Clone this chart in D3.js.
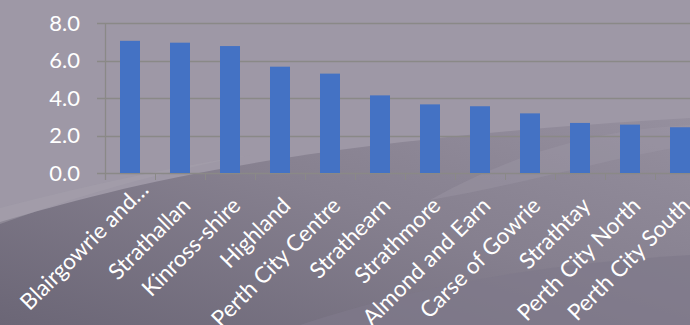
<!DOCTYPE html>
<html>
<head>
<meta charset="utf-8">
<script src="https://cdn.jsdelivr.net/npm/d3@7"></script>
<style>
  body { margin: 0; background: #9e98a6; overflow: hidden; }
  svg { display: block; }
</style>
</head>
<body>
<svg id="vis"></svg>
<script>
// data
const areas = ["Blairgowrie and Rattray", "Strathallan", "Kinross-shire", "Highland",
  "Perth City Centre", "Strathearn", "Strathmore", "Almond and Earn",
  "Carse of Gowrie", "Strathtay", "Perth City North", "Perth City South"];
const values = [7.05, 6.95, 6.77, 5.67, 5.30, 4.14, 3.66, 3.56, 3.18, 2.67, 2.58, 2.44];
const yTicks = [0, 2, 4, 6, 8];

const width = 690, height = 325;

// cut long names like excel does
shortName = (name) => {
  const words = name.split(" ");
  if (name.length > 20) return words.slice(0, 2).join(" ") + "\u2026";
  return name;
}

function drawChart() {
  const svg = d3.select("#vis")
    .attr("width", width)
    .attr("height", height)
    .attr("viewBox", [0, 0, width, height]);

  // background swooshes
  const defs = svg.append("defs");
  const grad = defs.append("linearGradient")
    .attr("id", "dark").attr("x1", 0).attr("y1", 1).attr("x2", 1).attr("y2", 0);
  grad.append("stop").attr("offset", 0).attr("stop-color", "#6b6676");
  grad.append("stop").attr("offset", 0.55).attr("stop-color", "#86808f");
  grad.append("stop").attr("offset", 1).attr("stop-color", "#958f9e");

  const bg = svg.append("g");
  bg.append("rect").attr("width", width).attr("height", height).attr("fill", "#9e98a6");
  bg.append("path")
    .attr("d", "M0,222 C120,186 300,140 690,118 L690,325 L0,325 Z")
    .attr("fill", "url(#dark)");
  bg.append("path")
    .attr("d", "M0,208 C100,182 180,166 250,155 C160,172 80,195 0,224 Z")
    .attr("fill", "#a7a1ad").attr("opacity", 0.45);
  bg.append("path")
    .attr("d", "M300,325 C420,285 540,264 690,255 L690,325 Z")
    .attr("fill", "#7f798a").attr("opacity", 0.7);
  bg.append("path")
    .attr("d", "M430,200 C520,150 600,130 690,125 L690,145 C600,160 520,185 430,200 Z")
    .attr("fill", "#a09aa8").attr("opacity", 0.35);

  const x = d3.scaleBand()
    .domain(areas)
    .range([105, 705])
    .paddingInner(0.6)
    .paddingOuter(0.3);

  const y = d3.scaleLinear()
    .domain([0, 8])
    .range([173, 23]);

  // grid lines
  svg.append("g")
    .selectAll("line")
    .data(yTicks)
    .join("line")
      .attr("x1", 97)
      .attr("x2", width)
      .attr("y1", d => Math.round(y(d)) + 0.5)
      .attr("y2", d => Math.round(y(d)) + 0.5)
      .style("stroke", "#8a8987")
      .style("stroke-width", 1.3);

  // value axis line and category ticks
  svg.append("line")
    .attr("x1", 105.5).attr("x2", 105.5)
    .attr("y1", y(8)).attr("y2", 180)
    .style("stroke", "#8a8987").style("stroke-width", 1.3);

  const step = x.step();
  svg.append("g")
    .selectAll("line")
    .data(areas)
    .join("line")
      .attr("x1", d => x(d) - step * 0.3 + step + 0.5)
      .attr("x2", d => x(d) - step * 0.3 + step + 0.5)
      .attr("y1", y(0))
      .attr("y2", 180)
      .style("stroke", "#8a8987")
      .style("stroke-width", 1);

  // bars
  svg.append("g")
    .selectAll("rect")
    .data(values)
    .join("rect")
      .attr("x", (d, i) => x(areas[i]))
      .attr("y", d => y(d))
      .attr("width", x.bandwidth())
      .attr("height", d => y(0) - y(d))
      .style("fill", "#4472c4");

  // y labels
  svg.append("g")
    .selectAll("text")
    .data(yTicks)
    .join("text")
      .attr("x", 80)
      .attr("y", d => y(d))
      .attr("dy", "0.35em")
      .attr("text-anchor", "end")
      .style("font-family", "Lato, 'Open Sans', sans-serif")
      .style("font-size", "22px")
      .style("fill", "#ffffff")
      .text(d => d.toFixed(1));

  // category labels, rotated
  svg.append("g")
    .selectAll("text")
    .data(areas)
    .join("text")
      .attr("transform", d => {
        let cx = x(d) + x.bandwidth() / 2 + 12;
        let cy = 207;
        if (shortName(d) !== d) { cx += 8; cy -= 16; }
        return `translate(${cx},${cy}) rotate(-45)`;
      })
      .attr("text-anchor", "end")
      .style("font-family", "Lato, 'Open Sans', sans-serif")
      .style("font-size", "22.5px")
      .style("fill", "#ffffff")
      .text(d => shortName(d));
}
drawChart();
</script>
</body>
</html>
